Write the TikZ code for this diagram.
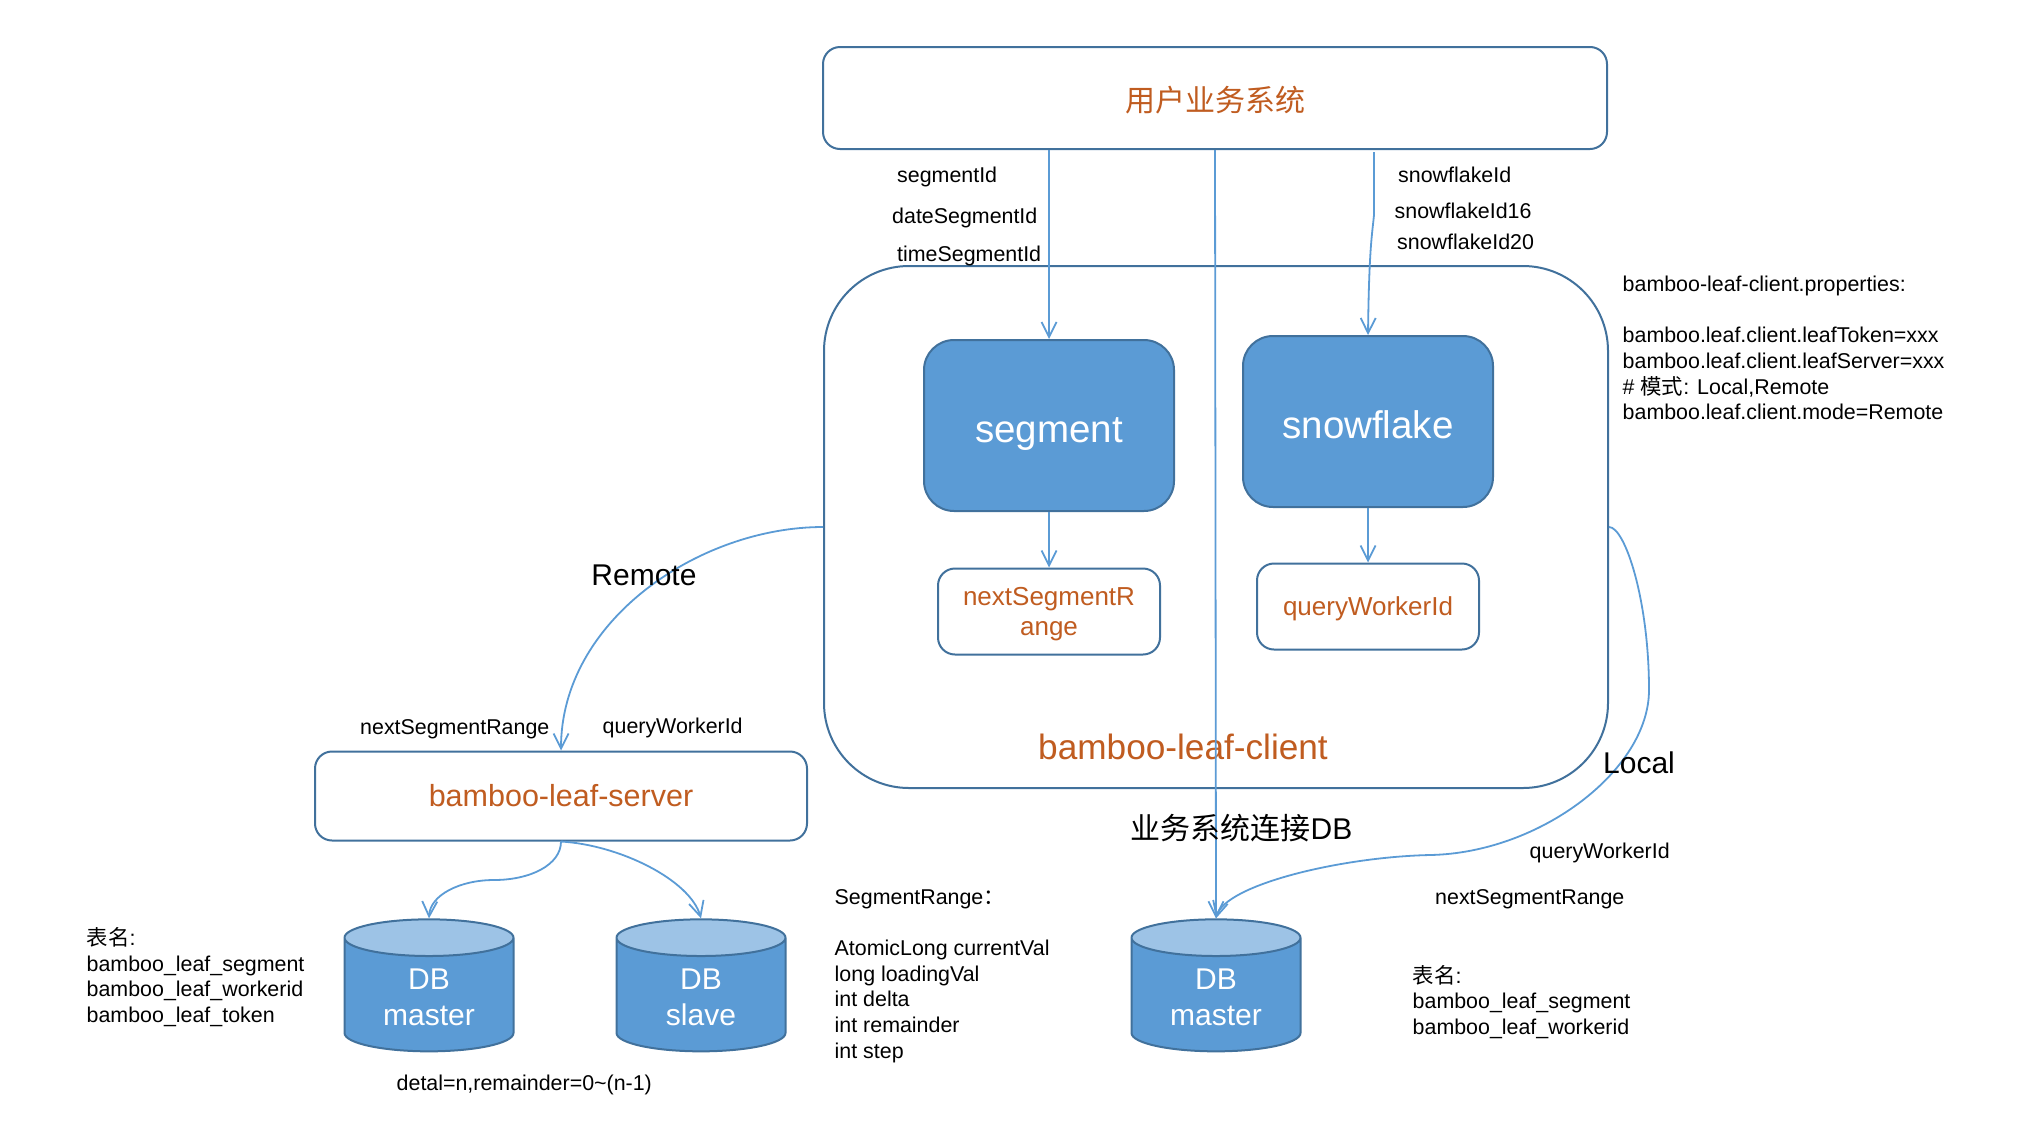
\documentclass[tikz,border=0pt]{standalone}
\usepackage{fontspec}
\setmainfont{Liberation Sans}
\newfontfamily\cjk{Noto Sans CJK SC}
\usetikzlibrary{arrows.meta,shapes.geometric}

\begin{document}
\begin{tikzpicture}[x=1pt,y=-1pt]

% ------------------------------------------------ theme colors
\definecolor{bl_fill}{RGB}{91,155,213}   %#5B9BD5
\definecolor{bl_top}{RGB}{157,195,230}   %#9DC3E6
\definecolor{bl_edge}{RGB}{65,113,156}   %#41719C
\definecolor{bl_orange}{RGB}{192,92,32}  %#C05C20

\tikzset{
  whitebox/.style={draw=bl_edge,line width=2pt,fill=white,rounded corners=17pt,inner sep=0pt,
    text=bl_orange,align=center},
  bluebox/.style={draw=bl_edge,line width=2pt,fill=bl_fill,rounded corners=30pt,inner sep=0pt,
    text=white,minimum width=250pt,minimum height=171pt,text height=33.5pt,text depth=0pt,
    font=\fontsize{38.5}{44}\selectfont},
  dbnode/.style={cylinder,shape border rotate=90,draw=bl_edge,line width=2pt,aspect=0.4,
    cylinder uses custom fill,cylinder body fill=bl_fill,cylinder end fill=bl_top,
    minimum width=169pt,minimum height=132pt,inner sep=0pt,text=white,align=center,
    font=\fontsize{30}{36.5}\selectfont},
  link/.style={draw=bl_fill,line width=1.8pt,-{Straight Barb[length=15pt,width=15pt]}},
  linkb/.style={draw=bl_fill,line width=1.8pt},
  small/.style={anchor=west,inner sep=0pt,align=left,font=\fontsize{21.4}{25.6}\selectfont},
  big/.style={inner sep=0pt,font=\fontsize{30}{36}\selectfont}
}

\useasboundingbox (0,0) rectangle (2032,1144);

% ------------------------------------------------ boxes
\node[whitebox,minimum width=784pt,minimum height=102pt,font=\cjk\fontsize{30}{36}\selectfont] (user) at (1215,98) {\rule{0pt}{29pt}用户业务系统};
\node[whitebox,minimum width=784pt,minimum height=522pt,rounded corners=85pt] (client) at (1216,527) {};
\node[bluebox] (segment) at (1049,425.5) {segment};
\node[bluebox] (snowflake) at (1368,421.5) {snowflake};
\node[whitebox,minimum width=222pt,minimum height=86pt,font=\fontsize{26}{30}\selectfont] (nextrange) at (1049,611.5) {\rule{0pt}{24pt}nextSegmentR\\ange};
\node[whitebox,minimum width=222pt,minimum height=86pt,font=\fontsize{26}{30}\selectfont] (queryid) at (1368,606.5) {\rule{0pt}{24pt}queryWorkerId};
\node[whitebox,minimum width=492pt,minimum height=89pt,font=\fontsize{30.5}{36}\selectfont] (server) at (561,796) {bamboo-leaf-server};
\node[inner sep=0pt,text=bl_orange,font=\fontsize{35.2}{40}\selectfont] (clientname) at (1183,746.5) {bamboo-leaf-client};

\node[dbnode] (master) at (429,995) {\rule{0pt}{25pt}DB\\master};
\node[dbnode] (slave) at (701,995) {\rule{0pt}{25pt}DB\\\makebox[91.7pt]{slave}};
\node[dbnode] (masterb) at (1216,995) {\rule{0pt}{25pt}DB\\master};

% ------------------------------------------------ connectors
\coordinate (snowstart) at (1374,152);
\coordinate (snowbend) at (1374,215);
\coordinate (localmid) at (1649,690);
\coordinate (localmidb) at (1430,855);
\coordinate (mastermid) at (494,880);

\draw[link] (segment.north |- user.south) -- (segment.north);
\draw[link] (user.south) -- (masterb.north);
\draw[link] (snowstart) -- (snowbend) .. controls (1372,235) and (1369,250) .. (snowflake.north);
\draw[link] (segment.south) -- (nextrange.north);
\draw[link] (snowflake.south) -- (queryid.north);
\draw[link] (client.west) .. controls (700,527) and (561,620) .. (server.north);
\draw[linkb] (client.east) .. controls (1625,527) and (1649,600) .. (localmid);
\draw[linkb] (localmid) .. controls (1649,770) and (1540,853) .. (localmidb);
\draw[link] (localmidb) .. controls (1340,857) and (1225,885) .. (masterb.north);
\draw[linkb] (server.south) .. controls (561,865) and (530,880) .. (mastermid);
\draw[link] (mastermid) .. controls (460,880) and (430,895) .. (master.north);
\draw[link] (server.south) .. controls (620,845) and (690,880) .. (slave.north);

% ------------------------------------------------ labels
\node[small] (lbsegment) at (897,176.5) {segmentId};
\node[small] (lbdate) at (892,217.5) {dateSegmentId};
\node[small] (lbtime) at (897,255.5) {timeSegmentId};
\node[small] (lbsnow) at (1398,174.5) {snowflakeId};
\node[small] (lbsnowa) at (1394.5,210.5) {snowflakeId16};
\node[small] (lbsnowb) at (1397,242) {snowflakeId20};

\node[small] (props) at (1622.5,348) {bamboo-leaf-client.properties:\\[25.6pt]
  bamboo.leaf.client.leafToken=xxx\\
  bamboo.leaf.client.leafServer=xxx\\
  \# {\cjk 模式}: Local,Remote\\
  bamboo.leaf.client.mode=Remote};

\node[big] (remote) at (644,575) {Remote};
\node[big] (local) at (1639,763) {Local};
\node[big] (bizdb) at (1241.5,828) {{\cjk 业务系统连接}DB};

\node[small] (lbnext) at (360,729.5) {nextSegmentRange};
\node[small] (lbquery) at (602.5,727.5) {queryWorkerId};
\node[small] (lbqueryb) at (1529.5,852.5) {queryWorkerId};
\node[small] (lbnextb) at (1435,899.5) {nextSegmentRange};

\node[small] (tables) at (86.5,977) {{\cjk 表名}:\\bamboo\_leaf\_segment\\bamboo\_leaf\_workerid\\bamboo\_leaf\_token};
\node[small] (tablesb) at (1412.5,1002) {{\cjk 表名}:\\bamboo\_leaf\_segment\\bamboo\_leaf\_workerid};
\node[small] (detal) at (396.5,1084.5) {detal=n,remainder=0\textasciitilde(n-1)};
\node[small] (range) at (834.5,976) {SegmentRange{\cjk ：}\\[25.6pt]
  AtomicLong currentVal\\
  long loadingVal\\
  int delta\\
  int remainder\\
  int step};

\end{tikzpicture}
\end{document}
